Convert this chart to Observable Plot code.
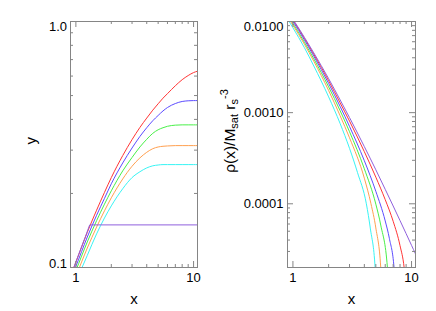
<!DOCTYPE html>
<html><head><meta charset="utf-8">
<script src="https://cdn.jsdelivr.net/npm/d3@7"></script>
<script src="https://cdn.jsdelivr.net/npm/@observablehq/plot@0.6"></script>
<style>
html,body{margin:0;padding:0;background:#fff;}
#wrap{position:relative;width:436px;height:311px;overflow:hidden;}
#wrap svg{position:absolute;top:0;overflow:visible;}
</style>
</head><body><div id="wrap"></div>
<script>
// ---------- data ----------
const seriesNames  = ["red", "blue", "green", "orange", "cyan", "purple"];
const seriesColors = ["#ff3535", "#5c4cff", "#48f048", "#ffa050", "#38f4f4", "#9060dd"];

// left panel: y(x)
const massX      = [0.85, 0.9, 1, 1.25, 1.5, 1.75, 2, 2.5, 3, 3.5, 4, 4.5, 5, 5.5, 6, 7, 8, 9, 10, 10.8];
const massRed    = [0.085, 0.092, 0.105, 0.139, 0.171, 0.202, 0.232, 0.285, 0.331, 0.371, 0.405, 0.436, 0.463, 0.488, 0.509, 0.548, 0.580, 0.603, 0.620, 0.628];
const massBlue   = [0.082, 0.089, 0.101, 0.133, 0.163, 0.191, 0.219, 0.266, 0.306, 0.341, 0.370, 0.395, 0.415, 0.433, 0.447, 0.464, 0.473, 0.476, 0.477, 0.477];
const massGreen  = [0.078, 0.085, 0.097, 0.127, 0.155, 0.181, 0.205, 0.247, 0.280, 0.309, 0.332, 0.351, 0.363, 0.370, 0.375, 0.379, 0.380, 0.380, 0.380, 0.380];
const massOrange = [0.074, 0.081, 0.092, 0.120, 0.146, 0.170, 0.192, 0.229, 0.258, 0.279, 0.294, 0.304, 0.309, 0.311, 0.312, 0.313, 0.313, 0.313, 0.313, 0.313];
const massCyan   = [0.069, 0.076, 0.087, 0.112, 0.137, 0.159, 0.178, 0.209, 0.232, 0.245, 0.254, 0.259, 0.261, 0.262, 0.262, 0.262, 0.262, 0.262, 0.262, 0.262];
const massPurpleX = [0.85, 0.9, 1.0, 1.1, 1.2, 1.31, 10.8];
const massPurple  = [0.085, 0.0918, 0.1054, 0.1191, 0.1327, 0.149, 0.149];

// right panel: rho(x)/Msat rs^-3
const densRedX    = [0.85, 0.9, 1, 1.25, 1.5, 2, 2.5, 3, 4, 5, 6, 7, 8, 8.66, 9.3];
const densRed     = [0.0144, 0.01287, 0.0104, 0.00653, 0.00436, 0.00224, 0.00128, 0.000808, 0.000373, 0.000196, 0.000111, 0.0000643, 0.0000347, 0.00002, 0.0000064];
const densBlueX   = [0.85, 0.9, 1, 1.25, 1.5, 2, 2.5, 3, 4, 5, 6, 6.5, 7.12, 7.55];
const densBlue    = [0.0138, 0.01233, 0.0100, 0.00626, 0.00416, 0.00209, 0.00117, 0.000706, 0.000297, 0.000137, 0.0000648, 0.0000418, 0.00002, 0.0000061];
const densGreenX  = [0.85, 0.9, 1, 1.25, 1.5, 2, 2.5, 3, 4, 5, 5.5, 6.26, 6.6];
const densGreen   = [0.0132, 0.01177, 0.00949, 0.0059, 0.00389, 0.00192, 0.00105, 0.000618, 0.000242, 0.0000991, 0.0000584, 0.00002, 0.0000056];
const densOrangeX = [0.85, 0.9, 1, 1.25, 1.5, 2, 2.5, 3, 4, 4.55, 5, 5.5, 5.75];
const densOrange  = [0.0126, 0.01126, 0.0091, 0.00563, 0.00366, 0.00175, 0.000925, 0.00053, 0.000191, 0.0001, 0.0000543, 0.00002, 0.0000065];
const densCyanX   = [0.85, 0.9, 1, 1.25, 1.5, 2, 2.5, 3, 3.5, 4.16, 4.5, 4.93, 5.15];
const densCyan    = [0.0120, 0.0107, 0.00853, 0.00516, 0.00325, 0.00149, 0.000759, 0.000406, 0.000221, 0.0001, 0.000053, 0.00002, 0.0000065];
const densPurpleX = [0.85, 0.9, 1, 1.25, 1.5, 2, 2.5, 3, 4, 5, 6, 7, 8, 9, 10, 10.8];
const densPurple  = [0.01457, 0.01305, 0.0106, 0.0067, 0.00452, 0.00236, 0.00138, 0.000883, 0.000424, 0.000236, 0.000144, 0.0000946, 0.0000654, 0.0000471, 0.000035, 0.0000282];

// axes
const xDomain = [0.9, 10.8];
const yLeftDomain = [0.1, 1];
const yRightDomain = [0.00002, 0.01];
const xMajor = [1, 10];
const xMinor = [2, 3, 4, 5, 6, 7, 8, 9];
const yLeftMajor = [0.1, 1];
const yLeftMinor = [0.2, 0.3, 0.4, 0.5, 0.6, 0.7, 0.8, 0.9];
const yRightMajor = [0.0001, 0.001, 0.01];
const yRightMinor = [0.00003, 0.00004, 0.00005, 0.00006, 0.00007, 0.00008, 0.00009,
  0.0002, 0.0003, 0.0004, 0.0005, 0.0006, 0.0007, 0.0008, 0.0009,
  0.002, 0.003, 0.004, 0.005, 0.006, 0.007, 0.008, 0.009];
const xTickLabels = ["1", "10"];
const yLeftTickLabels = ["0.1", "1.0"];
const yRightTickLabels = ["0.0001", "0.0010", "0.0100"];
const xTitle = "x";
const yLeftTitle = "y";

// ---------- drawing ----------
const gray = "#858585";
const font = "'Liberation Sans', Arial, Helvetica, sans-serif";
const W = 218, H = 311, MT = 21, MB = 44;
const FH = H - MT - MB;

function rows(xs, ys) { return xs.map((x, i) => ({x, y: ys[i]})); }

function tickMarks(fw, yMaj, yMin) {
  const g = {stroke: gray, strokeWidth: 1};
  return [
    Plot.tickX(xMajor, {x: d => d, insetTop: FH - 6, ...g}),
    Plot.tickX(xMajor, {x: d => d, insetBottom: FH - 6, ...g}),
    Plot.tickX(xMinor, {x: d => d, insetTop: FH - 3, ...g}),
    Plot.tickX(xMinor, {x: d => d, insetBottom: FH - 3, ...g}),
    Plot.tickY(yMaj, {y: d => d, insetRight: fw - 6, ...g}),
    Plot.tickY(yMaj, {y: d => d, insetLeft: fw - 6, ...g}),
    Plot.tickY(yMin, {y: d => d, insetRight: fw - 3, ...g}),
    Plot.tickY(yMin, {y: d => d, insetLeft: fw - 3, ...g})
  ];
}

function xLabels() {
  return Plot.text(xMajor, {x: d => d, text: (d, i) => xTickLabels[i], frameAnchor: "bottom",
    lineAnchor: "bottom", dy: 14.5, fontSize: 13, fill: "#000"});
}

const wrap = document.getElementById("wrap");

// Left panel
const leftSeries = [
  {x: massX, y: massRed}, {x: massX, y: massBlue}, {x: massX, y: massGreen},
  {x: massX, y: massOrange}, {x: massX, y: massCyan}
];
const svg1 = Plot.plot({
  width: W, height: H, marginLeft: 70, marginRight: 21, marginTop: MT, marginBottom: MB,
  x: {type: "log", domain: xDomain, axis: null},
  y: {type: "log", domain: yLeftDomain, axis: null},
  style: {background: "#fff", fontFamily: font, overflow: "visible"},
  marks: [
    ...leftSeries.map((s, i) => Plot.line(rows(s.x, s.y), {x: "x", y: "y", stroke: seriesColors[i], strokeWidth: 1, curve: "monotone-x", clip: true})),
    Plot.line(rows(massPurpleX, massPurple), {x: "x", y: "y", stroke: seriesColors[5], strokeWidth: 1, clip: true}),
    Plot.frame({stroke: gray}),
    ...tickMarks(127, yLeftMajor, yLeftMinor),
    xLabels(),
    Plot.text([yLeftMajor[1]], {y: d => d, text: () => yLeftTickLabels[1], frameAnchor: "left", textAnchor: "end", dx: -3.5, lineAnchor: "top", fontSize: 13, fill: "#000"}),
    Plot.text([yLeftMajor[0]], {y: d => d, text: () => yLeftTickLabels[0], frameAnchor: "left", textAnchor: "end", dx: -3.5, lineAnchor: "bottom", fontSize: 13, fill: "#000"}),
    Plot.text([xTitle], {text: d => d, frameAnchor: "bottom", lineAnchor: "bottom", dy: 36, fontSize: 15, fill: "#000"}),
    Plot.text([yLeftTitle], {text: d => d, frameAnchor: "left", lineAnchor: "bottom", rotate: -90, dx: -34.5, fontSize: 15, fill: "#000"})
  ]
});
svg1.style.left = "0px";
wrap.appendChild(svg1);

// Right panel
const rightSeries = [
  {x: densRedX, y: densRed}, {x: densBlueX, y: densBlue}, {x: densGreenX, y: densGreen},
  {x: densOrangeX, y: densOrange}, {x: densCyanX, y: densCyan}, {x: densPurpleX, y: densPurple}
];
const svg2 = Plot.plot({
  width: W, height: H, marginLeft: 69, marginRight: 21, marginTop: MT, marginBottom: MB,
  x: {type: "log", domain: xDomain, axis: null},
  y: {type: "log", domain: yRightDomain, axis: null},
  style: {background: "transparent", fontFamily: font, overflow: "visible"},
  marks: [
    ...rightSeries.map((s, i) => Plot.line(rows(s.x, s.y), {x: "x", y: "y", stroke: seriesColors[i], strokeWidth: 1, curve: "monotone-x", clip: true})),
    Plot.frame({stroke: gray}),
    ...tickMarks(128, yRightMajor, yRightMinor),
    xLabels(),
    Plot.text([yRightMajor[2]], {y: d => d, text: () => yRightTickLabels[2], frameAnchor: "left", textAnchor: "end", dx: -4, lineAnchor: "top", fontSize: 13, fill: "#000"}),
    Plot.text(yRightMajor.slice(0, 2), {y: d => d, text: (d, i) => yRightTickLabels[i], frameAnchor: "left", textAnchor: "end", dx: -4, lineAnchor: "middle", fontSize: 13, fill: "#000"}),
    Plot.text([xTitle], {text: d => d, frameAnchor: "bottom", lineAnchor: "bottom", dy: 36, fontSize: 15, fill: "#000"})
  ]
});
svg2.style.left = "218px";
wrap.appendChild(svg2);

// right y title with sub/superscripts
const lab = d3.select(svg2).append("text")
  .attr("transform", "translate(17,131) rotate(-90)")
  .attr("text-anchor", "middle")
  .attr("font-family", font)
  .attr("font-size", 15.5)
  .attr("fill", "#000");
lab.append("tspan").text("ρ(x)/M");
lab.append("tspan").attr("font-size", 11).attr("dy", 3).text("sat");
lab.append("tspan").attr("dy", -3).text(" r");
lab.append("tspan").attr("font-size", 11).attr("dy", 3).text("s");
lab.append("tspan").attr("font-size", 11).attr("dy", -10).text("-3");
</script></body></html>
